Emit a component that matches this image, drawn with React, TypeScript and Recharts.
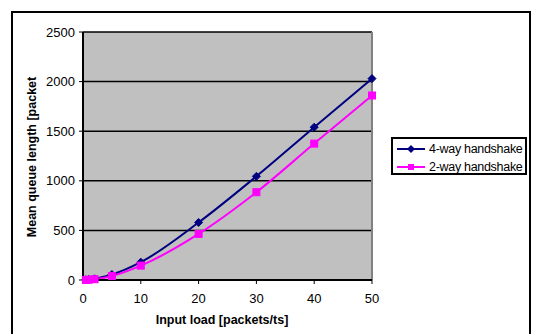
import { CartesianGrid, Line, LineChart, XAxis, YAxis } from 'recharts';

const loads = [0.5, 1, 2, 5, 10, 20, 30, 40, 50];
const fourWay = [2, 5, 12, 55, 180, 580, 1045, 1540, 2030];
const twoWay = [1, 3, 8, 40, 145, 465, 885, 1375, 1860];
const xTicks = [0, 10, 20, 30, 40, 50];
const yTicks = [0, 500, 1000, 1500, 2000, 2500];

const data = loads.map((x, i) => ({ x, four: fourWay[i], two: twoWay[i] }));

const font = '"Liberation Sans", Arial, sans-serif';

function Diamond({ cx, cy }: { cx?: number; cy?: number }) {
  if (cx == null || cy == null) return null;
  const s = 4;
  return <path d={`M${cx},${cy - s}L${cx + s},${cy}L${cx},${cy + s}L${cx - s},${cy}Z`} fill="#000080" stroke="#000080" />;
}

function Square({ cx, cy }: { cx?: number; cy?: number }) {
  if (cx == null || cy == null) return null;
  return <rect x={cx - 3.5} y={cy - 3.5} width={7} height={7} fill="#ff00ff" stroke="#ff00ff" />;
}

function LegendBox() {
  const row = (color: string, label: string, marker: 'd' | 's') => (
    <div style={{ display: 'flex', alignItems: 'center', height: 18 }}>
      <svg width={30} height={12}>
        <line x1={1} y1={6} x2={29} y2={6} stroke={color} strokeWidth={2} />
        {marker === 'd' ? (
          <path d="M15,2L19,6L15,10L11,6Z" fill={color} />
        ) : (
          <rect x={12} y={3} width={6} height={6} fill={color} />
        )}
      </svg>
      <span style={{ fontSize: 12.5, marginLeft: 3, letterSpacing: -0.3 }}>{label}</span>
    </div>
  );
  return (
    <div
      style={{
        position: 'absolute',
        left: 391,
        top: 137,
        width: 128,
        height: 33,
        border: '2px solid #000',
        padding: '1px 1px 0 3px',
        background: '#fff',
        fontFamily: font,
        whiteSpace: 'nowrap',
      }}
    >
      {row('#000080', '4-way handshake', 'd')}
      {row('#ff00ff', '2-way handshake', 's')}
    </div>
  );
}

export default function App() {
  return (
    <div style={{ position: 'absolute', left: 0, top: 0, width: 535, height: 334, background: '#fff', overflow: 'hidden' }}>
      <div style={{ position: 'absolute', left: 11, top: 11, width: 516, height: 340, border: '2px solid #000' }} />
      <div
        style={{
          position: 'absolute',
          left: 32,
          top: 157,
          transform: 'translate(-50%, -50%) rotate(-90deg)',
          fontFamily: font,
          fontWeight: 'bold',
          fontSize: 12.5,
          whiteSpace: 'nowrap',
        }}
      >
        Mean queue length [packet
      </div>
      <div
        style={{
          position: 'absolute',
          left: 222,
          top: 320,
          transform: 'translate(-50%, -50%)',
          fontFamily: font,
          fontWeight: 'bold',
          fontSize: 12.5,
          whiteSpace: 'nowrap',
        }}
      >
        Input load [packets/ts]
      </div>
      <LineChart
        width={535}
        height={334}
        data={data}
        margin={{ top: 32, right: 163, bottom: 30, left: 33 }}
        style={{ position: 'absolute', left: 0, top: 0, fontFamily: font }}
      >
        <CartesianGrid fill="#c0c0c0" stroke="#000" strokeWidth={1.5} vertical={false} />
        <XAxis
          type="number"
          dataKey="x"
          domain={[0, 50]}
          ticks={xTicks}
          height={24}
          tick={{ fontSize: 13, fill: '#000' }}
          axisLine={{ stroke: '#000', strokeWidth: 2 }}
          tickLine={{ stroke: '#000' }}
          tickSize={4}
          tickMargin={10}
        />
        <YAxis
          type="number"
          domain={[0, 2500]}
          ticks={yTicks}
          width={50}
          tick={{ fontSize: 13, fill: '#000' }}
          axisLine={{ stroke: '#000', strokeWidth: 2 }}
          tickLine={{ stroke: '#000' }}
          tickSize={4}
          tickMargin={4}
        />
        <Line
          type="monotone"
          dataKey="four"
          name="4-way handshake"
          stroke="#000080"
          strokeWidth={2}
          dot={<Diamond />}
          isAnimationActive={false}
        />
        <Line
          type="monotone"
          dataKey="two"
          name="2-way handshake"
          stroke="#ff00ff"
          strokeWidth={2}
          dot={<Square />}
          isAnimationActive={false}
        />
        <line x1={372} y1={32} x2={372} y2={280} stroke="#808080" strokeWidth={2} />
      </LineChart>
      <LegendBox />
    </div>
  );
}
